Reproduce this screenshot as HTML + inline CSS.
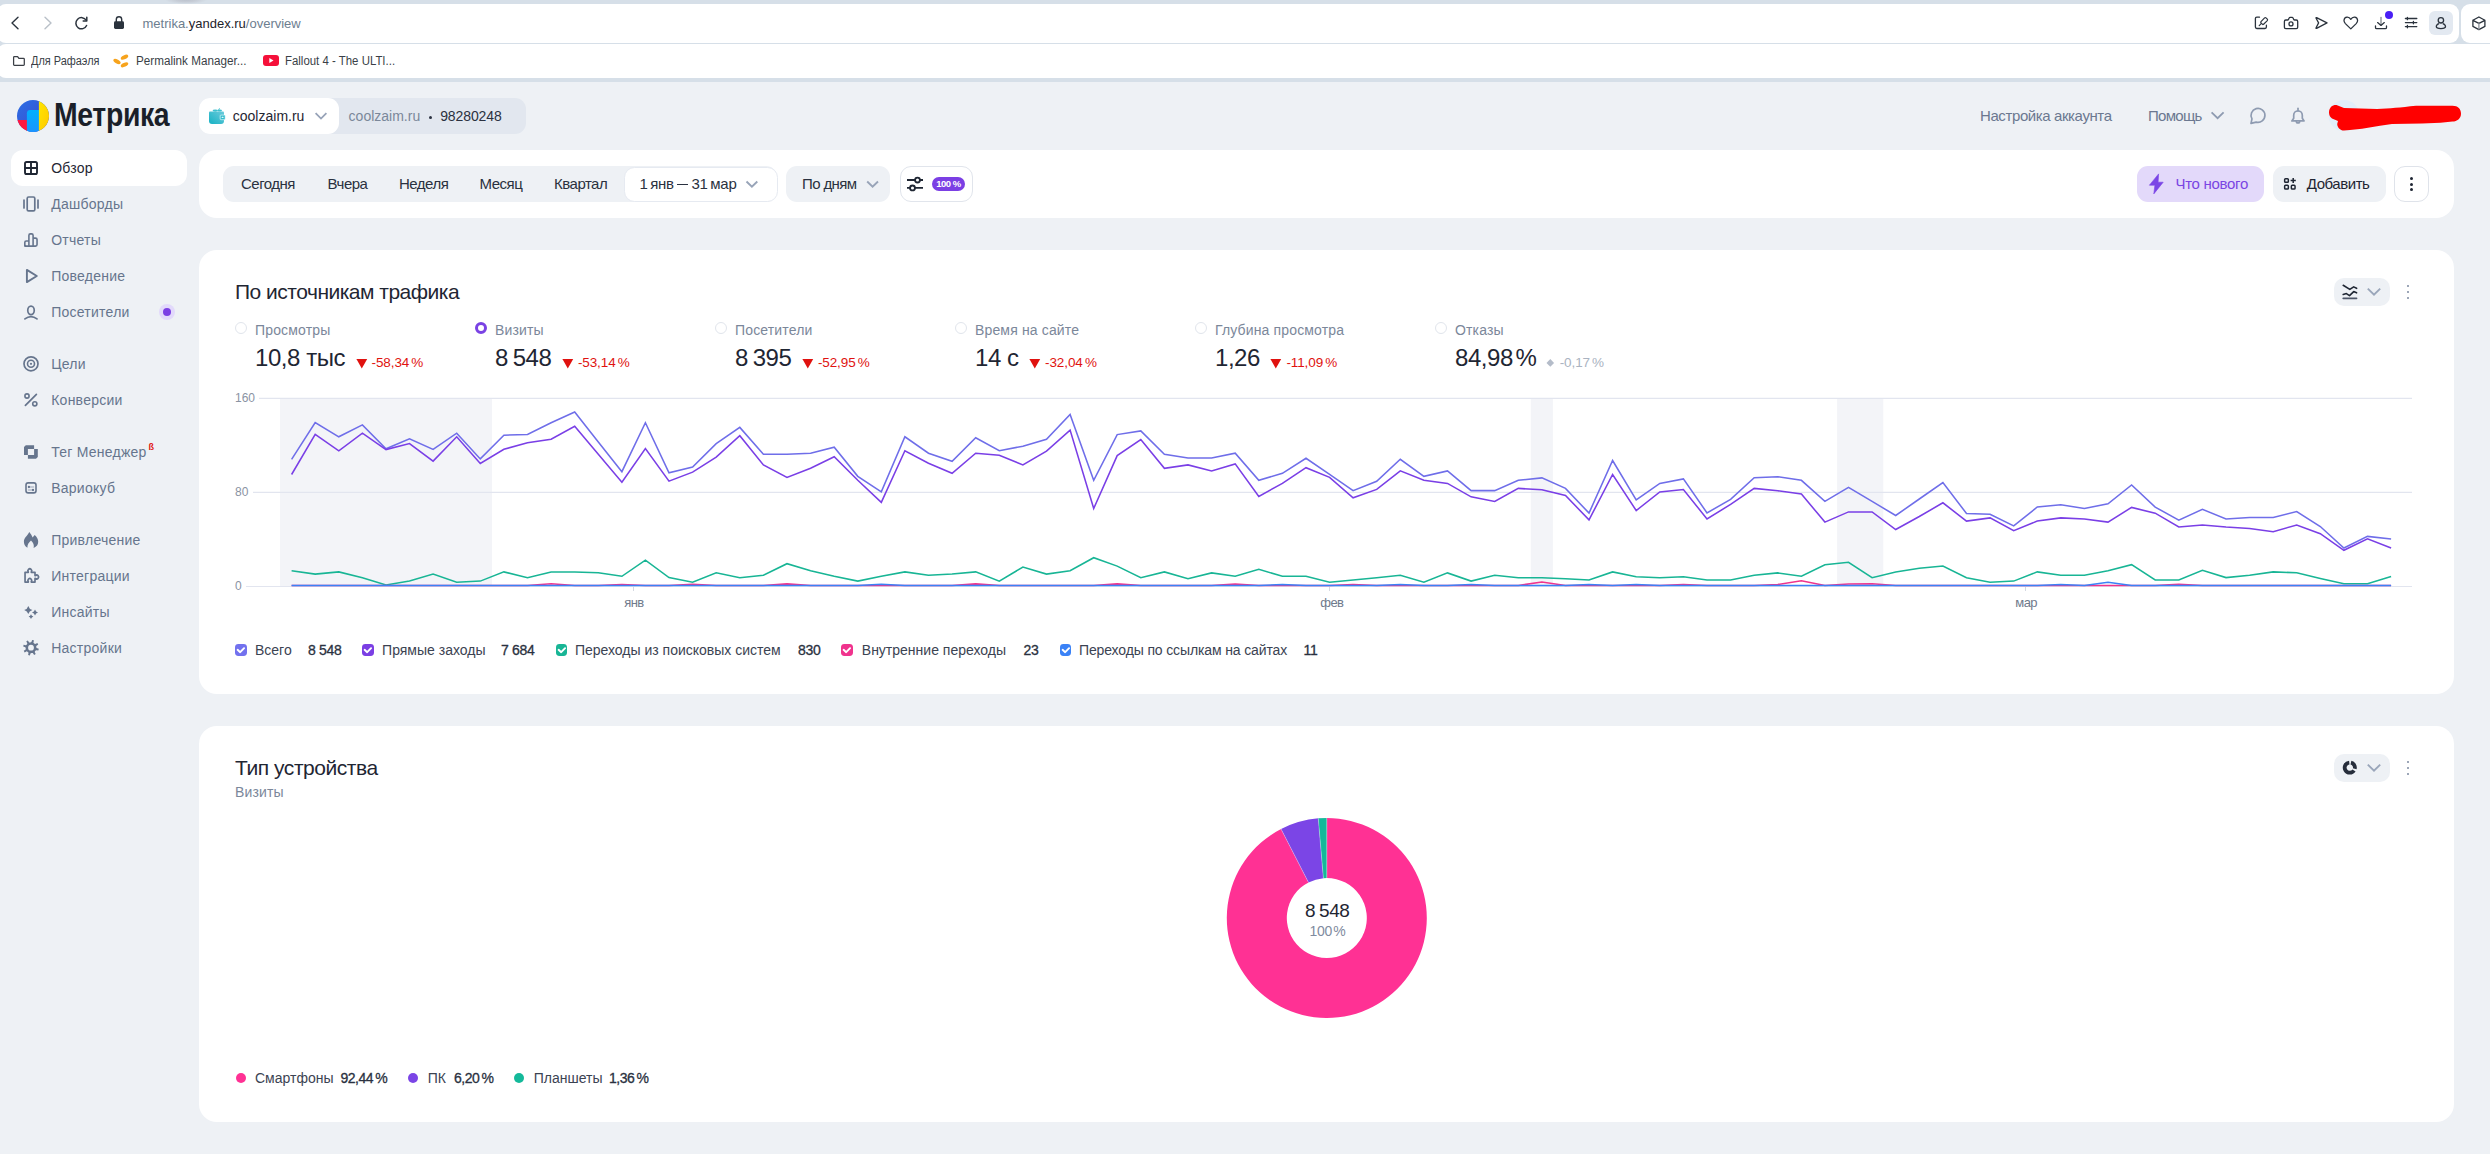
<!DOCTYPE html><html lang="ru"><head><meta charset="utf-8"><title>Метрика</title><style>
*{margin:0;padding:0;box-sizing:border-box}
html,body{width:2490px;height:1154px;overflow:hidden}
body{background:#eef1f5;font-family:"Liberation Sans",sans-serif;color:#1f2633;position:relative}
.a{position:absolute}
.t{position:absolute;white-space:nowrap;line-height:1}
svg{display:block}
/* browser chrome */
#chrome{left:0;top:0;width:2490px;height:82px;background:#d6dfe8}
#addr{left:-3px;top:4px;width:2462px;height:39px;background:#fff;border-radius:9px}
#ext{left:2461px;top:4px;width:40px;height:39px;background:#fff;border-radius:9px}
#bm{left:-3px;top:44px;width:2513px;height:34px;background:#fff;border-radius:9px}
#pagebg{left:-3px;top:82px;width:2499px;height:1072px;background:#eef1f5;border-radius:9px 9px 0 0}
.url{font-size:13px;color:#6d7e8f;letter-spacing:0}
.url b{font-weight:normal;color:#1d232b}
.bmt{font-size:12px;color:#3a3f47}
/* metrika */
.logo{font-weight:bold;font-size:33px;color:#1a1f29;letter-spacing:-1px}
.card{position:absolute;background:#fff;border-radius:18px}
.side{font-size:14px;color:#66758d;letter-spacing:0.25px}
.tab{font-size:15px;color:#2a3140;letter-spacing:-0.5px}
.h2{font-size:20px;color:#1f2633;letter-spacing:0.05px}
.ml{font-size:14px;color:#7b879a;letter-spacing:0.15px}
.mv{font-size:24px;color:#1f2633;letter-spacing:-0.6px}
.md{font-size:13.5px;color:#e0120f;letter-spacing:-0.1px}
.lg{font-size:14px;color:#3b4352;letter-spacing:0}
.lgv{font-size:14px;color:#2a3140;letter-spacing:-0.3px;-webkit-text-stroke:0.3px #2a3140}
.ax{font-size:12px;color:#8a93a3}
</style></head><body><div class="a" id="chrome"></div>
<div class="a" style="left:165px;top:0;width:42px;height:4px;background:radial-gradient(ellipse 50% 100% at 50% 0,#bcc3ce 0%,#c6ccd6 45%,rgba(214,223,232,0) 100%)"></div>
<div class="a" id="addr"></div><div class="a" id="ext"></div><div class="a" id="bm"></div>
<div class="a" id="pagebg"></div>
<svg class="a" style="left:0;top:0" width="140" height="44" viewBox="0 0 140 44" fill="none" stroke-linecap="round" stroke-linejoin="round">
<path d="M18 17.2 L12 23 L18 28.8" stroke="#2b333d" stroke-width="1.4"/>
<path d="M45 17.2 L51 23 L45 28.8" stroke="#b9c0c8" stroke-width="1.4"/>
<path d="M86.2 20.2 A5.6 5.6 0 1 0 86.6 25.5" stroke="#2b333d" stroke-width="1.5"/>
<path d="M86.8 17.3 L86.8 21 L83.2 21" stroke="#2b333d" stroke-width="1.5"/>
<path d="M116.3 21.5 V19.4 A2.7 2.7 0 0 1 121.7 19.4 V21.5" stroke="#2b333d" stroke-width="1.4"/>
<rect x="114" y="21.3" width="10" height="7.6" rx="1.4" fill="#2b333d"/>
</svg>
<div class="t url" style="left:142.5px;top:16.50px;font-size:13px;">metrika.<b>yandex.ru</b>/overview</div>
<svg class="a" style="left:2240px;top:0" width="250" height="44" viewBox="2240 0 250 44" fill="none" stroke="#2b333d" stroke-width="1.3" stroke-linecap="round" stroke-linejoin="round">
<path d="M2259.5 17.2 H2256.8 Q2255.4 17.2 2255.4 18.6 V27.1 Q2255.4 28.5 2256.8 28.5 H2265 Q2266.4 28.5 2266.4 27.1 V25.2"/>
<path d="M2261 21.6 L2264.6 17.9 Q2265.3 17.3 2266 17.9 L2267.3 19.2 Q2267.9 19.9 2267.3 20.6 L2263.6 24.2 Q2262.9 24.8 2262.3 24.2 L2261 22.9 Q2260.4 22.3 2261 21.6 Z" stroke-width="1.2"/><path d="M2261.2 23.7 L2259.2 25.7" stroke-width="1.2"/>
<path d="M2285.8 20 H2287.6 Q2288.2 20 2288.5 19.4 L2289.1 18.1 Q2289.4 17.3 2290.2 17.3 H2292 Q2292.8 17.3 2293.1 18.1 L2293.7 19.4 Q2294 20 2294.6 20 H2296.3 Q2297.7 20 2297.7 21.4 V27.3 Q2297.7 28.7 2296.3 28.7 H2285.8 Q2284.4 28.7 2284.4 27.3 V21.4 Q2284.4 20 2285.8 20 Z"/><circle cx="2291" cy="23.9" r="2"/>
<path d="M2316.6 17.6 L2327 22.9 L2316.6 28.3 Q2315.7 28.6 2316.1 27.7 L2318.6 22.9 L2316.1 18.2 Q2315.7 17.3 2316.6 17.6 Z"/>
<path d="M2350.8 28.9 L2345.4 23.6 Q2343.9 22 2344 20.2 Q2344.3 17.4 2347 17.1 Q2349.4 16.9 2350.8 19.3 Q2352.2 16.9 2354.6 17.1 Q2357.3 17.4 2357.6 20.2 Q2357.7 22 2356.2 23.6 Z"/>
<path d="M2381 17.4 V25" stroke="#80878f"/><path d="M2377.6 22.6 L2381 25.4 L2384.3 22.6"/><path d="M2375.5 26 V27.4 Q2375.5 28.6 2376.7 28.6 H2385.3 Q2386.5 28.6 2386.5 27.4 V26"/>
<path d="M2405.4 18.5 H2416.8 M2405.4 22.6 H2416.8 M2405.4 26.6 H2416.8 M2407.4 17.3 V19.7 M2413.4 21.4 V23.8 M2407.4 25.4 V27.8"/>
<path d="M2478.9 17 L2484.9 20.3 V26.4 L2478.9 29.6 L2472.9 26.4 V20.3 Z M2472.9 20.3 L2478.9 23.4 L2484.9 20.3"/><path d="M2478.9 23.4 V29.3" stroke="#8a9099"/>
</svg>
<div class="a" style="left:2429.3px;top:11px;width:23.6px;height:24px;border-radius:6px;background:#e3e9f1"></div>
<svg class="a" style="left:2429px;top:11px" width="24" height="24" viewBox="2429 11 24 24" fill="none" stroke="#2b333d" stroke-width="1.3"><circle cx="2440.9" cy="20.3" r="2.7"/><path d="M2439 23.6 C2437.2 24.2 2436.3 25.4 2436.3 26.6 C2436.3 28.1 2437.8 28.6 2440.9 28.6 C2444 28.6 2445.5 28.1 2445.5 26.6 C2445.5 25.4 2444.6 24.2 2442.8 23.6"/></svg>
<div class="a" style="left:2384.8px;top:11px;width:8px;height:8px;border-radius:50%;background:#4a1ff5"></div>
<svg class="a" style="left:10px;top:52px" width="20" height="18" viewBox="10 52 20 18" fill="none" stroke="#3a3e45" stroke-width="1.25" stroke-linejoin="round"><path d="M13.6 57.4 Q13.6 56.6 14.4 56.6 H17.6 L18.9 58.4 H23.5 Q24.3 58.4 24.3 59.2 V64.5 Q24.3 65.3 23.5 65.3 H14.4 Q13.6 65.3 13.6 64.5 Z"/></svg>
<div class="t bmt" style="left:31.1px;top:55.12px;font-size:12.5px;transform:scaleX(0.875);transform-origin:0 0">Для Рафаэля</div>
<svg class="a" style="left:112px;top:52px" width="20" height="18" viewBox="0 0 20 18"><g fill="#f7a31c"><ellipse cx="5" cy="9.5" rx="4" ry="2" transform="rotate(30 5 9.5)"/><ellipse cx="12.5" cy="5.2" rx="4" ry="2" transform="rotate(-25 12.5 5.2)"/><ellipse cx="12.5" cy="12.8" rx="4" ry="2" transform="rotate(-25 12.5 12.8)"/></g></svg>
<div class="t bmt" style="left:135.6px;top:55.12px;font-size:12.5px;transform:scaleX(0.935);transform-origin:0 0">Permalink Manager...</div>
<div class="a" style="left:263px;top:55.3px;width:16px;height:11px;border-radius:3px;background:#f5103a"></div>
<svg class="a" style="left:263px;top:55px" width="16" height="11" viewBox="0 0 16 11"><path d="M6.3 3 L10.5 5.5 L6.3 8 Z" fill="#fff"/></svg>
<div class="t bmt" style="left:285px;top:55.12px;font-size:12.5px;transform:scaleX(0.914);transform-origin:0 0">Fallout 4 - The ULTI...</div>
<svg class="a" style="left:17px;top:100px" width="32" height="32" viewBox="0 0 32 32">
<defs><clipPath id="lc"><circle cx="16" cy="16" r="16"/></clipPath>
<linearGradient id="lb" x1="0" y1="0" x2="1" y2="1"><stop offset="0" stop-color="#2a6fe6"/><stop offset="1" stop-color="#4046c9"/></linearGradient>
<linearGradient id="lbl" x1="0" y1="0" x2="0" y2="1"><stop offset="0" stop-color="#00b0ff"/><stop offset="1" stop-color="#1a94ff"/></linearGradient>
<linearGradient id="ly" x1="0" y1="0" x2="1" y2="1"><stop offset="0" stop-color="#ffe600"/><stop offset="1" stop-color="#ffc800"/></linearGradient></defs>
<g clip-path="url(#lc)"><rect width="32" height="32" fill="url(#lb)"/><rect x="0" y="20" width="10" height="12" fill="#ff1640"/>
<path d="M9.9 13.3 A3.4 3.4 0 0 1 13.3 9.9 H22 V32 H9.9 Z" fill="url(#lbl)"/><rect x="21.9" y="0" width="10.1" height="32" fill="url(#ly)"/></g></svg>
<div class="t logo" style="left:54px;top:98.27px;font-size:33px;transform:scaleX(0.86);transform-origin:0 0;letter-spacing:-0.4px">Метрика</div>
<div class="a" style="left:199px;top:98px;width:327px;height:36px;border-radius:11px;background:#e2e7ef"></div>
<div class="a" style="left:199px;top:98px;width:140px;height:36px;border-radius:11px;background:#fff"></div>
<svg class="a" style="left:207px;top:106px" width="20" height="20" viewBox="0 0 20 20"><defs><linearGradient id="wg" x1="0" y1="1" x2="1" y2="0"><stop offset="0" stop-color="#16b2c4"/><stop offset="1" stop-color="#6ccadb"/></linearGradient></defs><path d="M2 6.4 Q2 5.4 3 5.4 H16 Q17 5.4 17 6.4 V15 Q17 17.9 14 17.9 H5 Q2 17.9 2 15 Z" fill="url(#wg)"/><ellipse cx="8.2" cy="4.6" rx="2.6" ry="1.1" fill="#3fc0cf"/><ellipse cx="12.6" cy="4.5" rx="2.4" ry="1" fill="#3fc0cf"/><path d="M11.6 4 L12.6 2.2" stroke="#3fc0cf" stroke-width="0.8"/><rect x="13.2" y="9.1" width="5" height="4.6" rx="0.6" fill="#33bccd" stroke="#fff" stroke-width="0.6"/><rect x="14.6" y="10.8" width="2" height="1.2" rx="0.6" fill="#e6f7fa"/></svg>
<div class="t " style="left:232.8px;top:109.15px;font-size:14px;color:#1f2633">coolzaim.ru</div>
<svg class="a" style="left:313px;top:109px" width="16" height="14" viewBox="0 0 16 14" fill="none" stroke="#97a3b8" stroke-width="1.8"><path d="M2.6 4.2 L8 9.6 L13.4 4.2"/></svg>
<div class="t " style="left:348.6px;top:109.15px;font-size:14px;color:#7b879a">coolzaim.ru</div>
<div class="a" style="left:428.8px;top:115.6px;width:3px;height:3px;border-radius:50%;background:#2a3140"></div>
<div class="t " style="left:440.2px;top:109.15px;font-size:14px;color:#2a3140;letter-spacing:-0.1px">98280248</div>
<div class="t " style="left:1980px;top:107.90px;font-size:15px;color:#6b7890;letter-spacing:-0.4px">Настройка аккаунта</div>
<div class="t " style="left:2148px;top:107.90px;font-size:15px;color:#6b7890;letter-spacing:-0.7px">Помощь</div>
<svg class="a" style="left:2208px;top:108px" width="18" height="16" viewBox="0 0 18 16" fill="none" stroke="#8e9bb1" stroke-width="1.8"><path d="M3.6 4.4 L9.6 10.2 L15.6 4.4"/></svg>
<svg class="a" style="left:2240px;top:100px" width="80" height="32" viewBox="2240 100 80 32" fill="none" stroke="#8e9bb1" stroke-width="1.7" stroke-linejoin="round" stroke-linecap="round">
<path d="M2256.2 122.1 A6.95 6.95 0 1 0 2251.98 118.88 L2251 123.4 Z"/>
<path d="M2291.9 120.9 L2293.7 118.3 V115.2 A4.3 4.3 0 0 1 2302.3 115.2 V118.3 L2304.1 120.9 Z"/><path d="M2298 108.3 V110.6"/><path d="M2296.3 121.2 A1.7 1.7 0 0 0 2299.7 121.2"/></svg>
<svg class="a" style="left:2320px;top:96px" width="150" height="40" viewBox="2320 96 150 40"><circle cx="2344" cy="115.5" r="15.5" fill="#e1eefa"/><path d="M2329 112.5 C2329 107 2333 104.6 2336.5 105 L2344 108 L2377 109 C2390 108.5 2400 107.5 2416 105.8 L2452.5 105.8 C2458 105.8 2461 109 2461 113.7 C2461 118.5 2457 121.5 2452.5 121.5 L2440.5 122.7 L2422 123.6 L2392 123.9 L2380 125.7 L2362 128.7 L2350 129.9 L2344 130.5 C2340 130.5 2337.2 127 2337.2 123.9 L2338 120.9 L2332 118.5 C2330 117 2329 115 2329 112.5 Z" fill="#ff0000"/></svg>
<div class="a" style="left:11px;top:150px;width:176px;height:36px;border-radius:12px;background:#fff"></div>
<div class="t side" style="left:51.2px;top:160.95px;font-size:14px;color:#1f2633">Обзор</div>
<div class="t side" style="left:51.2px;top:196.95px;font-size:14px;">Дашборды</div>
<div class="t side" style="left:51.2px;top:232.95px;font-size:14px;">Отчеты</div>
<div class="t side" style="left:51.2px;top:268.95px;font-size:14px;">Поведение</div>
<div class="t side" style="left:51.2px;top:304.95px;font-size:14px;">Посетители</div>
<div class="t side" style="left:51.2px;top:356.95px;font-size:14px;">Цели</div>
<div class="t side" style="left:51.2px;top:392.95px;font-size:14px;">Конверсии</div>
<div class="t side" style="left:51.2px;top:444.95px;font-size:14px;">Тег Менеджер</div>
<div class="t side" style="left:51.2px;top:480.95px;font-size:14px;">Вариокуб</div>
<div class="t side" style="left:51.2px;top:532.95px;font-size:14px;">Привлечение</div>
<div class="t side" style="left:51.2px;top:568.95px;font-size:14px;">Интеграции</div>
<div class="t side" style="left:51.2px;top:604.95px;font-size:14px;">Инсайты</div>
<div class="t side" style="left:51.2px;top:640.95px;font-size:14px;">Настройки</div>
<div class="t" style="left:148.5px;top:443px;font-size:9px;color:#e0120f;font-weight:bold">ß</div>
<div class="a" style="left:159px;top:304px;width:16px;height:16px;border-radius:50%;background:#e2d9fb"></div>
<div class="a" style="left:163px;top:308px;width:8px;height:8px;border-radius:50%;background:#7b3fe4"></div>
<svg class="a" style="left:0;top:150px" width="50" height="520" viewBox="0 150 50 520" fill="none" stroke="#66758d" stroke-width="1.7" stroke-linejoin="round" stroke-linecap="round">
<g stroke="#1f2633" stroke-width="1.9"><rect x="25" y="162" width="12" height="12" rx="1.6"/><path d="M31 162 V174 M25 168 H37"/></g>
<rect x="27.2" y="197" width="7.6" height="13.9" rx="1.4"/><path d="M24 200 V208 M38 200 V208"/>
<path d="M24.8 246.1 V242.5 Q24.8 241 26.3 241 H28.9 V235.4 Q28.9 233.9 30.4 233.9 H31.6 Q33.1 233.9 33.1 235.4 V238.1 H35.5 Q37.05 238.1 37.05 239.6 V244.6 Q37.05 246.1 35.5 246.1 H26.3 Q24.8 246.1 24.8 244.6 Z M28.9 241 V246.1 M33.1 238.1 V246.1" stroke-width="1.6"/>
<path d="M26.9 269.9 L36.8 276 L26.9 282.1 Z" stroke-width="1.9"/>
<ellipse cx="31" cy="310.35" rx="3.25" ry="4.3"/><path d="M24.9 318.9 Q31 314.2 37 318.9"/>
<circle cx="31" cy="363.8" r="7"/><circle cx="31" cy="363.8" r="3.5" stroke-width="1.6"/><circle cx="31" cy="363.8" r="1.1" fill="#66758d" stroke="none"/>
<path d="M25.4 405.4 L36.4 394.3"/><circle cx="27" cy="396" r="2.1" stroke-width="1.6"/><circle cx="34.8" cy="403.8" r="2.1" stroke-width="1.6"/>
<path d="M25.8 445.2 H34.1 V454.9 H24 V447 Z M27.9 448.9 H37.8 V457 L36 458.8 H27.9 Z" fill="#66758d" stroke="none" fill-rule="evenodd"/>
<rect x="26" y="482.9" width="10" height="10" rx="2.2" stroke-width="1.6"/><path d="M28.9 487 H33.6 M28.4 490 H33" stroke="#b5bdca" stroke-width="1.3"/><circle cx="28.9" cy="487" r="1.15" fill="#66758d" stroke="none"/><circle cx="33" cy="490" r="1.15" fill="#66758d" stroke="none"/>
</svg>
<svg class="a" style="left:0;top:520px" width="50" height="150" viewBox="0 520 50 150" fill="#66758d" stroke="none">
<path d="M27.4 547.8 C24.8 546.6 23.9 544 23.9 541.6 C23.9 537.6 27.6 535.6 29.3 531.9 C30.8 533.8 32 535.6 32.6 537.4 C33.2 536.6 34 535.8 34.7 535 C37 537 38.2 539.4 38.2 541.8 C38.2 544.6 36.8 546.8 33.6 548 C34.4 545.2 33.4 542.4 31 540.4 C29 542 27.2 544.6 27.4 547.8 Z"/>
<path d="M25.05 572.3 H28.3 V571.9 A1.9 1.9 0 1 1 31.3 571.9 V572.3 H35 V575.6 H35.4 A1.9 1.9 0 1 1 35.4 578.4 H35 V582.1 H31.3 V581.6 A1.9 1.9 0 1 0 28.3 581.6 V582.1 H25.05 Z" fill="none" stroke="#66758d" stroke-width="1.7" stroke-linejoin="round"/>
<path d="M28.3 605.9 Q29.2 609.1 32.4 610 Q29.2 610.9 28.3 614.1 Q27.400000000000002 610.9 24.200000000000003 610 Q27.400000000000002 609.1 28.3 605.9 Z"/><path d="M35 609.5 Q35.7 611.8 38.0 612.5 Q35.7 613.2 35 615.5 Q34.3 613.2 32.0 612.5 Q34.3 611.8 35 609.5 Z"/><path d="M31 614.2 Q31.55 616.0500000000001 33.4 616.6 Q31.55 617.15 31 619.0 Q30.45 617.15 28.6 616.6 Q30.45 616.0500000000001 31 614.2 Z"/>
<path d="M30.31 642.45 L31.39 642.11 L32.17 639.89 L33.90 640.35 L33.45 642.67 L34.23 643.50 L35.23 644.03 L37.35 643.00 L38.24 644.55 L36.29 645.88 L36.25 647.01 L36.59 648.09 L38.81 648.87 L38.35 650.60 L36.03 650.15 L35.20 650.93 L34.67 651.93 L35.70 654.05 L34.15 654.94 L32.82 652.99 L31.69 652.95 L30.61 653.29 L29.83 655.51 L28.10 655.05 L28.55 652.73 L27.77 651.90 L26.77 651.37 L24.65 652.40 L23.76 650.85 L25.71 649.52 L25.75 648.39 L25.41 647.31 L23.19 646.53 L23.65 644.80 L25.97 645.25 L26.80 644.47 L27.33 643.47 L26.30 641.35 L27.85 640.46 L29.18 642.41 Z M33.9 647.7 A2.9 2.9 0 1 0 28.1 647.7 A2.9 2.9 0 1 0 33.9 647.7 Z" fill-rule="evenodd"/>
</svg>
<div class="card" style="left:199px;top:150px;width:2255px;height:68px"></div>
<div class="a" style="left:223px;top:166px;width:554px;height:36px;border-radius:11px;background:#eef1f5"></div>
<div class="a" style="left:623.5px;top:166.5px;width:154px;height:35px;border-radius:10.5px;background:#fff;border:1.5px solid #e6eaf1"></div>
<div class="t tab" style="left:241px;top:176.30px;font-size:15px;">Сегодня</div>
<div class="t tab" style="left:327.6px;top:176.30px;font-size:15px;">Вчера</div>
<div class="t tab" style="left:399px;top:176.30px;font-size:15px;">Неделя</div>
<div class="t tab" style="left:479.6px;top:176.30px;font-size:15px;">Месяц</div>
<div class="t tab" style="left:554px;top:176.30px;font-size:15px;">Квартал</div>
<div class="t tab" style="left:639.6px;top:176.30px;font-size:15px;letter-spacing:-0.25px">1</div>
<div class="t tab" style="left:650.2px;top:176.30px;font-size:15px;letter-spacing:-0.25px">янв</div>
<div class="t tab" style="left:691.5px;top:176.30px;font-size:15px;letter-spacing:-0.25px">31</div>
<div class="t tab" style="left:710.3px;top:176.30px;font-size:15px;letter-spacing:-0.25px">мар</div>
<div class="a" style="left:677.1px;top:183.7px;width:10.9px;height:1.3px;background:#2a3140"></div>
<svg class="a" style="left:743px;top:176px" width="18" height="16" viewBox="0 0 18 16" fill="none" stroke="#98a4b8" stroke-width="1.9"><path d="M3.5 5.5 L8.9 10.7 L14.3 5.5"/></svg>
<div class="a" style="left:786px;top:166px;width:104px;height:36px;border-radius:11px;background:#eef1f5"></div>
<div class="t tab" style="left:802px;top:176.30px;font-size:15px;letter-spacing:-0.63px">По дням</div>
<svg class="a" style="left:864px;top:176px" width="18" height="16" viewBox="0 0 18 16" fill="none" stroke="#98a4b8" stroke-width="1.9"><path d="M3.2 5.5 L8.6 10.7 L14 5.5"/></svg>
<div class="a" style="left:900px;top:166px;width:73px;height:36px;border-radius:11px;background:#fff;border:1px solid #e1e5ec"></div>
<svg class="a" style="left:905px;top:174px" width="22" height="20" viewBox="0 0 22 20" fill="none" stroke="#1f2633" stroke-width="1.85"><path d="M2 6 H18 M2 13.9 H18"/><circle cx="12.5" cy="6" r="2.45" fill="#fff"/><circle cx="7.5" cy="13.9" r="2.45" fill="#fff"/></svg>
<div class="a" style="left:932px;top:177px;width:33px;height:14px;border-radius:7px;background:#7b3fe4"></div>
<div class="t" style="left:932px;top:179.3px;width:33px;text-align:center;font-size:9.5px;font-weight:bold;color:#fff;letter-spacing:-0.5px">100 %</div>
<div class="a" style="left:2137px;top:166px;width:127px;height:36px;border-radius:11px;background:#e3d9fa"></div>
<svg class="a" style="left:2146px;top:173px" width="20" height="22" viewBox="0 0 20 22"><path d="M12.6 0.9 L3.4 12.2 H8.9 L7.8 20.9 L17.2 9.2 H12.1 Z" fill="#7b45e6" stroke="#7b45e6" stroke-width="0.6" stroke-linejoin="round"/></svg>
<div class="t " style="left:2175.5px;top:175.90px;font-size:15px;color:#7a45e3;letter-spacing:-0.3px">Что нового</div>
<div class="a" style="left:2272.5px;top:166px;width:113.5px;height:36px;border-radius:11px;background:#eef1f5"></div>
<svg class="a" style="left:2282px;top:176px" width="16" height="16" viewBox="0 0 16 16" fill="none" stroke="#1f2633" stroke-width="1.5"><rect x="2.65" y="2.65" width="3.7" height="3.7" rx="0.9"/><rect x="2.65" y="9.35" width="3.7" height="3.7" rx="0.9"/><rect x="9.35" y="9.35" width="3.7" height="3.7" rx="0.9"/><path d="M11.2 1.9 V7.1 M8.6 4.5 H13.8"/></svg>
<div class="t " style="left:2306.8px;top:175.90px;font-size:15px;color:#1f2633;letter-spacing:-0.45px">Добавить</div>
<div class="a" style="left:2394px;top:166px;width:35px;height:36px;border-radius:11px;background:#fff;border:1px solid #dfe3ea"></div>
<div class="a" style="left:2410.2px;top:177.1px;width:3px;height:3px;border-radius:50%;background:#1f2633"></div>
<div class="a" style="left:2410.2px;top:182.6px;width:3px;height:3px;border-radius:50%;background:#1f2633"></div>
<div class="a" style="left:2410.2px;top:188.1px;width:3px;height:3px;border-radius:50%;background:#1f2633"></div>
<div class="card" style="left:199px;top:250px;width:2255px;height:444px"></div>
<div class="t h2" style="left:235px;top:281.02px;font-size:21px;letter-spacing:-0.5px">По источникам трафика</div>
<div class="a" style="left:2334px;top:278px;width:56px;height:28px;border-radius:10px;background:#eef1f5"></div><svg class="a" style="left:2341px;top:284px" width="18" height="16" viewBox="0 0 18 16" fill="none" stroke="#1f2633" stroke-width="1.6" stroke-linecap="round" stroke-linejoin="round"><path d="M2.2 1.3 L8.8 5.4 L12.7 2.9 L15.6 4.3"/><path d="M2.2 10.5 L5.4 9.6 L8.5 11.6 L12.7 7.6 L15.6 8.8"/><path d="M2.2 14.4 H15.6" stroke="#4e5668"/></svg><svg class="a" style="left:2365px;top:285px" width="18" height="14" viewBox="0 0 18 14" fill="none" stroke="#9aa6ba" stroke-width="1.9"><path d="M2.8 3.6 L9 9.6 L15.2 3.6"/></svg><div class="a" style="left:2406.6px;top:284.6px;width:2.8px;height:2.8px;border-radius:50%;background:#7d8aa0"></div><div class="a" style="left:2406.6px;top:290.6px;width:2.8px;height:2.8px;border-radius:50%;background:#7d8aa0"></div><div class="a" style="left:2406.6px;top:296.6px;width:2.8px;height:2.8px;border-radius:50%;background:#7d8aa0"></div>
<div class="a" style="left:235px;top:321.9px;width:12.2px;height:12.2px;border-radius:50%;border:1.2px solid #e1e5ec;background:#fff"></div>
<div class="t ml" style="left:255px;top:322.95px;font-size:14px;">Просмотры</div>
<div class="t mv" style="left:255px;top:345.68px;font-size:24px;letter-spacing:-0.45px;word-spacing:0px">10,8 тыс</div>
<svg class="a" style="left:355.5px;top:357.5px" width="12" height="12" viewBox="0 0 12 12"><path d="M0.4 1 H11.2 L5.8 10.6 Z" fill="#e0120f"/></svg>
<div class="t md" style="left:371.525px;top:356.37px;font-size:13.5px;word-spacing:-1.5px">-58,34 %</div>
<div class="a" style="left:475px;top:321.9px;width:12.2px;height:12.2px;border-radius:50%;border:3.9px solid #7a42e4;background:#fff"></div>
<div class="t ml" style="left:495px;top:322.95px;font-size:14px;">Визиты</div>
<div class="t mv" style="left:495px;top:345.68px;font-size:24px;letter-spacing:-0.45px;word-spacing:-1.4px">8 548</div>
<svg class="a" style="left:561.9px;top:357.5px" width="12" height="12" viewBox="0 0 12 12"><path d="M0.4 1 H11.2 L5.8 10.6 Z" fill="#e0120f"/></svg>
<div class="t md" style="left:577.896875px;top:356.37px;font-size:13.5px;word-spacing:-1.5px">-53,14 %</div>
<div class="a" style="left:715px;top:321.9px;width:12.2px;height:12.2px;border-radius:50%;border:1.2px solid #e1e5ec;background:#fff"></div>
<div class="t ml" style="left:735px;top:322.95px;font-size:14px;">Посетители</div>
<div class="t mv" style="left:735px;top:345.68px;font-size:24px;letter-spacing:-0.45px;word-spacing:-1.4px">8 395</div>
<svg class="a" style="left:801.9px;top:357.5px" width="12" height="12" viewBox="0 0 12 12"><path d="M0.4 1 H11.2 L5.8 10.6 Z" fill="#e0120f"/></svg>
<div class="t md" style="left:817.896875px;top:356.37px;font-size:13.5px;word-spacing:-1.5px">-52,95 %</div>
<div class="a" style="left:955px;top:321.9px;width:12.2px;height:12.2px;border-radius:50%;border:1.2px solid #e1e5ec;background:#fff"></div>
<div class="t ml" style="left:975px;top:322.95px;font-size:14px;">Время на сайте</div>
<div class="t mv" style="left:975px;top:345.68px;font-size:24px;letter-spacing:-0.45px;word-spacing:0px">14 с</div>
<svg class="a" style="left:1029.1px;top:357.5px" width="12" height="12" viewBox="0 0 12 12"><path d="M0.4 1 H11.2 L5.8 10.6 Z" fill="#e0120f"/></svg>
<div class="t md" style="left:1045.059375px;top:356.37px;font-size:13.5px;word-spacing:-1.5px">-32,04 %</div>
<div class="a" style="left:1195px;top:321.9px;width:12.2px;height:12.2px;border-radius:50%;border:1.2px solid #e1e5ec;background:#fff"></div>
<div class="t ml" style="left:1215px;top:322.95px;font-size:14px;">Глубина просмотра</div>
<div class="t mv" style="left:1215px;top:345.68px;font-size:24px;letter-spacing:-0.45px;word-spacing:0px">1,26</div>
<svg class="a" style="left:1270.4px;top:357.5px" width="12" height="12" viewBox="0 0 12 12"><path d="M0.4 1 H11.2 L5.8 10.6 Z" fill="#e0120f"/></svg>
<div class="t md" style="left:1286.403125px;top:356.37px;font-size:13.5px;word-spacing:-1.5px">-11,09 %</div>
<div class="a" style="left:1435px;top:321.9px;width:12.2px;height:12.2px;border-radius:50%;border:1.2px solid #e1e5ec;background:#fff"></div>
<div class="t ml" style="left:1455px;top:322.95px;font-size:14px;">Отказы</div>
<div class="t mv" style="left:1455px;top:345.68px;font-size:24px;letter-spacing:-0.45px;word-spacing:-3.6px">84,98 %</div>
<svg class="a" style="left:1546.3px;top:358px" width="10" height="10" viewBox="0 0 10 10"><path d="M4.3 1.1 L8.1 4.9 L4.3 8.7 L0.5 4.9 Z" fill="#b4bcc9"/></svg>
<div class="t md" style="left:1559.7125px;top:356.37px;font-size:13.5px;color:#aab3c1;word-spacing:-1.5px">-0,17 %</div>
<svg class="a" style="left:0;top:380px" width="2490" height="240" viewBox="0 380 2490 240">
<rect x="280" y="398" width="212" height="188.5" fill="#f3f4f8"/>
<rect x="1530.8" y="398" width="22.1" height="188.5" fill="#f3f4f8"/>
<rect x="1837.1" y="398" width="46.2" height="188.5" fill="#f3f4f8"/>
<g stroke="#e2e5ef" stroke-width="1.1"><path d="M259 398.4 H2412 M253 492.4 H2412 M246 586.5 H2412"/></g>
<g stroke="#d5d9e2" stroke-width="1"><path d="M633.5 587 V591 M1329.5 587 V591 M2025.5 587 V591"/></g>
<g fill="none" stroke-width="1.55" stroke-linejoin="miter" stroke-miterlimit="3">
<polyline points="291.6,570.7 315.2,574.1 338.8,571.9 362.4,577.7 386.0,585.0 409.5,581.1 433.1,574.1 456.7,582.3 480.3,581.1 503.9,571.9 527.5,577.7 551.1,571.9 574.7,571.9 598.3,572.7 621.9,576.3 645.4,560.1 669.0,577.5 692.6,582.3 716.2,572.7 739.8,577.7 763.4,575.3 787.0,563.7 810.6,570.7 834.2,576.3 857.8,581.1 881.3,576.3 904.9,571.9 928.5,575.3 952.1,574.1 975.7,571.9 999.3,581.1 1022.9,567.1 1046.5,574.1 1070.1,570.7 1093.7,557.7 1117.2,566.1 1140.8,577.7 1164.4,571.9 1188.0,578.7 1211.6,572.9 1235.2,576.3 1258.8,569.3 1282.4,576.3 1306.0,576.3 1329.6,582.3 1353.1,579.9 1376.7,577.7 1400.3,575.3 1423.9,582.3 1447.5,572.9 1471.1,581.1 1494.7,575.3 1518.3,577.7 1541.9,577.7 1565.5,578.7 1589.0,579.9 1612.6,571.9 1636.2,576.7 1659.8,577.7 1683.4,576.7 1707.0,579.9 1730.6,579.9 1754.2,575.3 1777.8,572.9 1801.4,576.3 1824.9,564.7 1848.5,562.3 1872.1,577.7 1895.7,571.9 1919.3,568.3 1942.9,566.1 1966.5,577.7 1990.1,582.3 2013.7,581.1 2037.3,571.9 2060.8,575.3 2084.4,575.3 2108.0,570.7 2131.6,564.7 2155.2,579.9 2178.8,579.9 2202.4,570.3 2226.0,577.6 2249.6,575.3 2273.2,571.9 2296.7,572.8 2320.3,578.5 2343.9,583.7 2367.5,583.7 2391.1,576.4" stroke="#18b595"/>
<polyline points="291.6,585.5 315.2,585.5 338.8,585.5 362.4,585.5 386.0,585.5 409.5,585.5 433.1,585.5 456.7,585.5 480.3,585.5 503.9,585.5 527.5,585.5 551.1,583.7 574.7,585.5 598.3,585.5 621.9,584.5 645.4,585.5 669.0,585.5 692.6,584.2 716.2,585.5 739.8,585.5 763.4,585.5 787.0,583.9 810.6,585.5 834.2,585.5 857.8,585.5 881.3,585.5 904.9,585.5 928.5,585.5 952.1,585.5 975.7,583.9 999.3,585.5 1022.9,585.5 1046.5,585.5 1070.1,585.5 1093.7,585.5 1117.2,583.9 1140.8,585.5 1164.4,585.5 1188.0,585.5 1211.6,585.5 1235.2,584.1 1258.8,585.5 1282.4,585.5 1306.0,585.5 1329.6,585.5 1353.1,584.5 1376.7,585.5 1400.3,585.5 1423.9,585.5 1447.5,585.5 1471.1,585.5 1494.7,585.5 1518.3,585.5 1541.9,582.0 1565.5,585.5 1589.0,585.5 1612.6,585.5 1636.2,585.5 1659.8,585.5 1683.4,584.5 1707.0,585.5 1730.6,585.5 1754.2,585.5 1777.8,584.5 1801.4,580.8 1824.9,585.5 1848.5,583.9 1872.1,583.7 1895.7,585.5 1919.3,585.5 1942.9,585.5 1966.5,585.5 1990.1,585.5 2013.7,585.5 2037.3,585.5 2060.8,585.5 2084.4,585.5 2108.0,585.5 2131.6,585.5 2155.2,585.5 2178.8,584.3 2202.4,585.5 2226.0,585.5 2249.6,585.5 2273.2,585.5 2296.7,585.5 2320.3,585.5 2343.9,585.5 2367.5,585.5 2391.1,585.5" stroke="#f0338d"/>
<polyline points="291.6,585.5 315.2,585.5 338.8,585.5 362.4,585.5 386.0,585.5 409.5,585.5 433.1,585.5 456.7,585.5 480.3,585.5 503.9,585.5 527.5,585.5 551.1,585.5 574.7,585.5 598.3,585.5 621.9,585.5 645.4,585.5 669.0,585.5 692.6,585.5 716.2,585.5 739.8,585.5 763.4,585.5 787.0,585.5 810.6,585.5 834.2,585.5 857.8,585.5 881.3,584.3 904.9,585.5 928.5,585.5 952.1,585.5 975.7,585.5 999.3,585.5 1022.9,585.5 1046.5,585.5 1070.1,585.5 1093.7,585.5 1117.2,585.5 1140.8,585.5 1164.4,585.5 1188.0,585.5 1211.6,585.5 1235.2,585.5 1258.8,585.5 1282.4,584.5 1306.0,585.5 1329.6,585.5 1353.1,585.5 1376.7,585.5 1400.3,584.5 1423.9,585.5 1447.5,585.5 1471.1,584.5 1494.7,585.5 1518.3,585.5 1541.9,585.5 1565.5,585.5 1589.0,584.5 1612.6,585.5 1636.2,584.5 1659.8,585.5 1683.4,585.5 1707.0,585.5 1730.6,585.5 1754.2,585.5 1777.8,585.5 1801.4,585.5 1824.9,585.5 1848.5,585.5 1872.1,585.5 1895.7,585.5 1919.3,585.5 1942.9,585.5 1966.5,585.5 1990.1,585.5 2013.7,585.5 2037.3,585.5 2060.8,584.5 2084.4,585.5 2108.0,582.3 2131.6,585.5 2155.2,585.5 2178.8,585.5 2202.4,585.5 2226.0,585.5 2249.6,585.5 2273.2,585.5 2296.7,585.5 2320.3,585.5 2343.9,585.5 2367.5,585.5 2391.1,585.5" stroke="#3b82f6"/>
<polyline points="291.6,459.3 315.2,422.5 338.8,436.8 362.4,424.9 386.0,448.8 409.5,438.8 433.1,449.4 456.7,433.2 480.3,458.9 503.9,435.2 527.5,434.5 551.1,422.7 574.7,412.0 598.3,441.9 621.9,471.7 645.4,422.7 669.0,472.8 692.6,467.0 716.2,443.6 739.8,427.4 763.4,454.2 787.0,454.2 810.6,453.2 834.2,447.2 857.8,476.3 881.3,491.8 904.9,436.8 928.5,453.2 952.1,461.3 975.7,437.8 999.3,450.8 1022.9,446.2 1046.5,439.2 1070.1,414.5 1093.7,480.3 1117.2,434.6 1140.8,430.9 1164.4,454.2 1188.0,457.9 1211.6,457.9 1235.2,453.2 1258.8,480.3 1282.4,473.3 1306.0,458.3 1329.6,474.3 1353.1,490.6 1376.7,481.3 1400.3,459.3 1423.9,476.3 1447.5,470.9 1471.1,490.6 1494.7,490.6 1518.3,480.3 1541.9,477.9 1565.5,488.4 1589.0,513.1 1612.6,460.5 1636.2,499.8 1659.8,483.4 1683.4,478.9 1707.0,512.9 1730.6,499.4 1754.2,477.7 1777.8,476.7 1801.4,480.3 1824.9,501.4 1848.5,487.4 1872.1,501.4 1895.7,515.5 1919.3,499.0 1942.9,482.6 1966.5,513.5 1990.1,514.3 2013.7,525.9 2037.3,507.0 2060.8,504.8 2084.4,508.5 2108.0,503.8 2131.6,485.0 2155.2,507.1 2178.8,520.2 2202.4,509.4 2226.0,518.9 2249.6,517.5 2273.2,517.5 2296.7,511.6 2320.3,526.5 2343.9,548.0 2367.5,536.4 2391.1,538.9" stroke="#6f6ee9"/>
<polyline points="291.6,474.5 315.2,434.4 338.8,450.8 362.4,433.2 386.0,449.6 409.5,443.6 433.1,461.1 456.7,436.8 480.3,463.5 503.9,449.3 527.5,442.8 551.1,439.2 574.7,426.3 598.3,454.2 621.9,482.2 645.4,448.6 669.0,481.1 692.6,472.1 716.2,457.1 739.8,435.7 763.4,464.9 787.0,477.5 810.6,468.3 834.2,456.8 857.8,480.3 881.3,502.4 904.9,450.8 928.5,463.3 952.1,473.3 975.7,453.2 999.3,455.2 1022.9,464.9 1046.5,451.2 1070.1,430.1 1093.7,508.5 1117.2,455.6 1140.8,439.6 1164.4,468.3 1188.0,464.9 1211.6,470.9 1235.2,463.9 1258.8,496.4 1282.4,483.4 1306.0,467.7 1329.6,477.3 1353.1,497.8 1376.7,489.4 1400.3,470.9 1423.9,480.3 1447.5,483.4 1471.1,496.8 1494.7,501.4 1518.3,488.4 1541.9,489.8 1565.5,495.4 1589.0,519.9 1612.6,474.5 1636.2,510.5 1659.8,492.0 1683.4,489.6 1707.0,518.9 1730.6,504.4 1754.2,488.4 1777.8,490.8 1801.4,494.0 1824.9,522.1 1848.5,511.9 1872.1,511.9 1895.7,529.5 1919.3,516.5 1942.9,502.8 1966.5,521.1 1990.1,517.9 2013.7,530.7 2037.3,521.1 2060.8,517.9 2084.4,519.1 2108.0,522.1 2131.6,507.4 2155.2,513.2 2178.8,526.9 2202.4,525.0 2226.0,527.1 2249.6,528.4 2273.2,531.7 2296.7,525.0 2320.3,533.7 2343.9,550.3 2367.5,538.9 2391.1,548.0" stroke="#7a3fe6"/>
</g>
</svg>
<div class="t ax" style="left:235px;top:392.34px;font-size:12px;">160</div>
<div class="t ax" style="left:235px;top:486.34px;font-size:12px;">80</div>
<div class="t ax" style="left:235px;top:580.34px;font-size:12px;">0</div>
<div class="t ax" style="left:624.3px;top:596.20px;font-size:13px;color:#6f7a8c;letter-spacing:-0.6px">янв</div>
<div class="t ax" style="left:1320.3px;top:596.20px;font-size:13px;color:#6f7a8c;letter-spacing:-0.6px">фев</div>
<div class="t ax" style="left:2015.3px;top:596.20px;font-size:13px;color:#6f7a8c;letter-spacing:-0.6px">мар</div>
<div class="a" style="left:235.1px;top:644px;width:11.8px;height:11.8px;border-radius:3.4px;background:#7271ee"></div>
<svg class="a" style="left:235.1px;top:644px" width="12" height="12" viewBox="0 0 12 12" fill="none" stroke="#fff" stroke-width="1.9" stroke-linecap="round" stroke-linejoin="round"><path d="M2.6 5.8 L5.2 8.2 L9.1 4.2"/></svg>
<div class="t lg" style="left:255px;top:643.15px;font-size:14px;">Всего</div>
<div class="t lgv" style="left:308px;top:643.15px;font-size:14px;">8 548</div>
<div class="a" style="left:362.4px;top:644px;width:11.8px;height:11.8px;border-radius:3.4px;background:#7b3fe4"></div>
<svg class="a" style="left:362.4px;top:644px" width="12" height="12" viewBox="0 0 12 12" fill="none" stroke="#fff" stroke-width="1.9" stroke-linecap="round" stroke-linejoin="round"><path d="M2.6 5.8 L5.2 8.2 L9.1 4.2"/></svg>
<div class="t lg" style="left:382.1px;top:643.15px;font-size:14px;">Прямые заходы</div>
<div class="t lgv" style="left:500.9px;top:643.15px;font-size:14px;">7 684</div>
<div class="a" style="left:555.5px;top:644px;width:11.8px;height:11.8px;border-radius:3.4px;background:#18b595"></div>
<svg class="a" style="left:555.5px;top:644px" width="12" height="12" viewBox="0 0 12 12" fill="none" stroke="#fff" stroke-width="1.9" stroke-linecap="round" stroke-linejoin="round"><path d="M2.6 5.8 L5.2 8.2 L9.1 4.2"/></svg>
<div class="t lg" style="left:574.9px;top:643.15px;font-size:14px;">Переходы из поисковых систем</div>
<div class="t lgv" style="left:798px;top:643.15px;font-size:14px;">830</div>
<div class="a" style="left:841.4px;top:644px;width:11.8px;height:11.8px;border-radius:3.4px;background:#f0338d"></div>
<svg class="a" style="left:841.4px;top:644px" width="12" height="12" viewBox="0 0 12 12" fill="none" stroke="#fff" stroke-width="1.9" stroke-linecap="round" stroke-linejoin="round"><path d="M2.6 5.8 L5.2 8.2 L9.1 4.2"/></svg>
<div class="t lg" style="left:861.8px;top:643.15px;font-size:14px;">Внутренние переходы</div>
<div class="t lgv" style="left:1023.6px;top:643.15px;font-size:14px;">23</div>
<div class="a" style="left:1059.6px;top:644px;width:11.8px;height:11.8px;border-radius:3.4px;background:#3b82f6"></div>
<svg class="a" style="left:1059.6px;top:644px" width="12" height="12" viewBox="0 0 12 12" fill="none" stroke="#fff" stroke-width="1.9" stroke-linecap="round" stroke-linejoin="round"><path d="M2.6 5.8 L5.2 8.2 L9.1 4.2"/></svg>
<div class="t lg" style="left:1079px;top:643.15px;font-size:14px;letter-spacing:-0.13px">Переходы по ссылкам на сайтах</div>
<div class="t lgv" style="left:1303.5px;top:643.15px;font-size:14px;">11</div>
<div class="card" style="left:199px;top:726px;width:2255px;height:395.5px"></div>
<div class="t h2" style="left:235px;top:757.12px;font-size:21px;letter-spacing:-0.45px">Тип устройства</div>
<div class="t ml" style="left:235px;top:785.15px;font-size:14px;">Визиты</div>
<div class="a" style="left:2334px;top:754px;width:56px;height:28px;border-radius:10px;background:#eef1f5"></div><svg class="a" style="left:2341px;top:760px" width="18" height="16" viewBox="0 0 18 16"><path d="M9.95 2.63 A5.1 5.1 0 0 1 13.75 8.83 M13.03 10.45 A5.1 5.1 0 1 1 8.27 2.53" fill="none" stroke="#262d3b" stroke-width="3.8"/></svg><svg class="a" style="left:2365px;top:761px" width="18" height="14" viewBox="0 0 18 14" fill="none" stroke="#9aa6ba" stroke-width="1.9"><path d="M2.8 3.6 L9 9.6 L15.2 3.6"/></svg><div class="a" style="left:2406.6px;top:760.6px;width:2.8px;height:2.8px;border-radius:50%;background:#7d8aa0"></div><div class="a" style="left:2406.6px;top:766.6px;width:2.8px;height:2.8px;border-radius:50%;background:#7d8aa0"></div><div class="a" style="left:2406.6px;top:772.6px;width:2.8px;height:2.8px;border-radius:50%;background:#7d8aa0"></div>
<svg class="a" style="left:1200px;top:800px" width="260" height="240" viewBox="1200 800 260 240"><path d="M1326.80 818.00 A100 100 0 1 1 1281.07 829.07 L1308.51 882.43 A40 40 0 1 0 1326.80 878.00 Z" fill="#ff3194"/><path d="M1281.07 829.07 A100 100 0 0 1 1318.27 818.36 L1323.39 878.15 A40 40 0 0 0 1308.51 882.43 Z" fill="#7b45e6"/><path d="M1318.27 818.36 A100 100 0 0 1 1326.80 818.00 L1326.80 878.00 A40 40 0 0 0 1323.39 878.15 Z" fill="#14b99a"/><g stroke="#fff" stroke-width="0.6" opacity="0.5"><path d="M1326.80 878.00 L1326.80 818.00"/><path d="M1308.51 882.43 L1281.07 829.07"/><path d="M1323.39 878.15 L1318.27 818.36"/></g></svg>
<div class="t" style="left:1267.2px;top:900.7px;width:120px;text-align:center;font-size:19px;color:#1f2633;letter-spacing:-0.45px;word-spacing:-0.8px">8 548</div>
<div class="t" style="left:1267.3999999999999px;top:924.0px;width:120px;text-align:center;font-size:14px;color:#7f8ba0;letter-spacing:-0.35px;word-spacing:-2.2px">100 %</div>
<div class="a" style="left:236px;top:1073px;width:10px;height:10px;border-radius:50%;background:#ff3194"></div>
<div class="t lg" style="left:255px;top:1071.15px;font-size:14px;">Смартфоны</div>
<div class="t lgv" style="left:340.4px;top:1071.15px;font-size:14px;word-spacing:-1.4px;letter-spacing:-0.45px">92,44 %</div>
<div class="a" style="left:408px;top:1073px;width:10px;height:10px;border-radius:50%;background:#7b45e6"></div>
<div class="t lg" style="left:427.7px;top:1071.15px;font-size:14px;">ПК</div>
<div class="t lgv" style="left:454px;top:1071.15px;font-size:14px;word-spacing:-1.4px;letter-spacing:-0.45px">6,20 %</div>
<div class="a" style="left:514px;top:1073px;width:10px;height:10px;border-radius:50%;background:#14b99a"></div>
<div class="t lg" style="left:533.7px;top:1071.15px;font-size:14px;">Планшеты</div>
<div class="t lgv" style="left:609px;top:1071.15px;font-size:14px;word-spacing:-1.4px;letter-spacing:-0.45px">1,36 %</div></body></html>
